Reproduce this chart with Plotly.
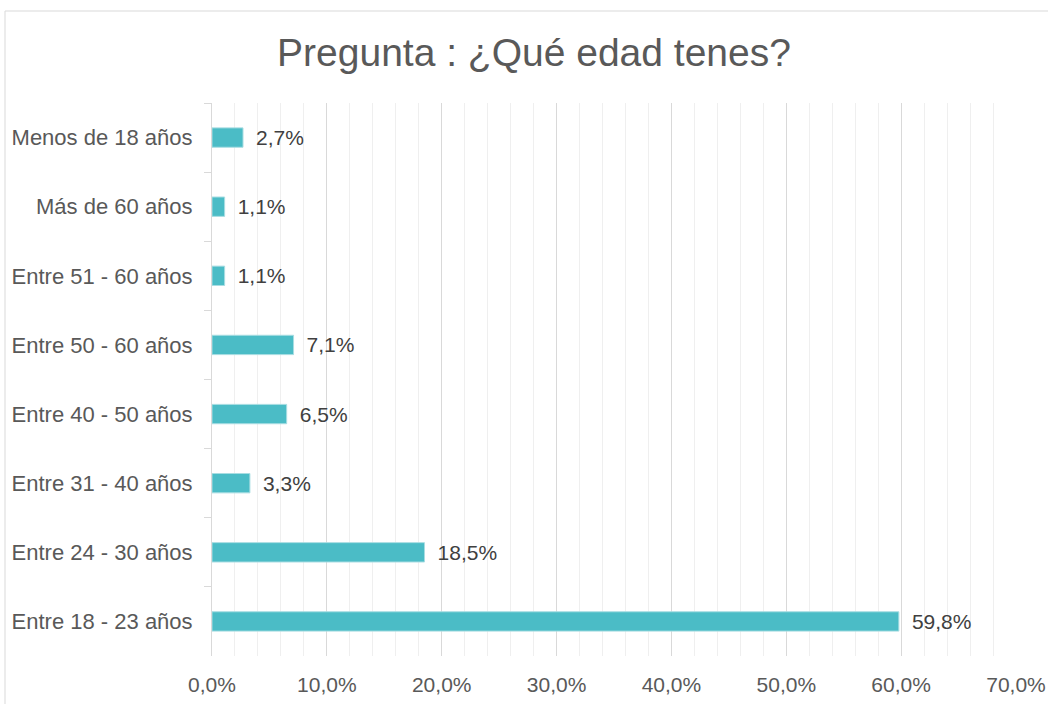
import plotly.graph_objects as go

categories = ["Menos de 18 años", "Más de 60 años", "Entre 51 - 60 años", "Entre 50 - 60 años",
              "Entre 40 - 50 años", "Entre 31 - 40 años", "Entre 24 - 30 años", "Entre 18 - 23 años"]
values = [2.7, 1.1, 1.1, 7.1, 6.5, 3.3, 18.5, 59.8]
x_ticks = [0, 10, 20, 30, 40, 50, 60, 70]
x_tick_labels = ["0,0%", "10,0%", "20,0%", "30,0%", "40,0%", "50,0%", "60,0%", "70,0%"]
title_text = "Pregunta : ¿Qué edad tenes?"

W, H = 1048, 704
L, R, T, B = 212, 32, 103, 48
pw, ph = W - L - R, H - T - B
FONT = "Liberation Sans, Arial"

fig = go.Figure()
fig.add_trace(go.Bar(
    y=categories, x=values, orientation="h",
    marker=dict(color="#4BBCC6", line=dict(color="#a8dde2", width=1)),
    width=0.28,
    texttemplate=" \u2009%{x:.1f}%", textposition="outside",
    constraintext="none",
    textfont=dict(family=FONT, size=21, color="#404040"),
    cliponaxis=False,
))

fig.update_layout(
    width=W, height=H,
    margin=dict(l=L, r=R, t=T, b=B, autoexpand=False),
    paper_bgcolor="white", plot_bgcolor="white",
    separators=",.",
    showlegend=False,
    title=dict(text=title_text, x=534 / W, xref="container", xanchor="center",
               y=1 - 52 / H, yref="container", yanchor="middle",
               font=dict(family=FONT, size=39, color="#595959")),
    xaxis=dict(
        range=[0, 70], tickvals=x_ticks, ticktext=x_tick_labels,
        showgrid=True, gridcolor="#d9d9d9", gridwidth=1,
        minor=dict(dtick=2, tick0=0, showgrid=True, gridcolor="#efefef", gridwidth=1),
        zeroline=False, showline=False, ticks="",
        ticklabelstandoff=14,
        tickfont=dict(family=FONT, size=21, color="#595959"),
        fixedrange=True,
    ),
    yaxis=dict(
        autorange="reversed", type="category",
        showgrid=False, zeroline=False,
        showline=True, linecolor="#d9d9d9", linewidth=1,
        ticks="outside", tickson="boundaries", ticklen=7, tickcolor="#d9d9d9",
        ticklabelstandoff=14,
        tickfont=dict(family=FONT, size=22, color="#595959"),
        fixedrange=True,
    ),
    bargap=0.72,
)

# chart frame border
fig.add_shape(type="rect", xref="paper", yref="paper",
              x0=(5 - L) / pw, x1=(W + 5 - L) / pw, y0=-(B + 5) / ph, y1=1 + (T - 11) / ph,
              line=dict(color="#d9d9d9", width=1), fillcolor="rgba(0,0,0,0)", layer="below")

fig.write_html("out.html", config={"displayModeBar": False},
               post_script="document.body.style.margin='0';document.body.style.padding='0';")
